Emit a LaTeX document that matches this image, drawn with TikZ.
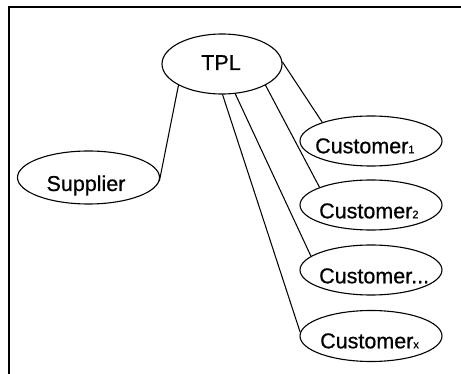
\documentclass[tikz,border=0pt]{standalone}
\usepackage{fontspec}
\setmainfont{Liberation Sans}
\usetikzlibrary{shapes.geometric}
\tikzset{
  oval/.style={draw, ellipse, line width=1.1pt, inner sep=0pt},
  txt/.style={inner sep=0pt, font=\fontsize{21.5}{24}\selectfont\addfontfeature{FakeBold=0.6}},
  link/.style={line width=1.05pt},
  frame/.style={line width=1.1pt}
}
\newcommand{\subsc}[1]{{\fontsize{11}{11}\selectfont #1}}
\begin{document}
\begin{tikzpicture}[x=1pt,y=-1pt]
\useasboundingbox (0,0) rectangle (461,374);
\coordinate (fa) at (9,374);
\coordinate (fb) at (9,7);
\coordinate (fc) at (461,7);
\draw[frame] (fa) -- (fb) -- (fc);

\node[oval, minimum width=120pt, minimum height=60pt] (tpl) at (222,64) {};
\node[oval, minimum width=142pt, minimum height=53pt] (sup) at (88.5,177.5) {};
\node[oval, minimum width=142pt, minimum height=50pt] (c1) at (371,141) {};
\node[oval, minimum width=142pt, minimum height=50pt] (c2) at (371,205) {};
\node[oval, minimum width=142pt, minimum height=50pt] (c3) at (371,270) {};
\node[oval, minimum width=142pt, minimum height=51pt] (cx) at (371,336) {};

\node[txt, anchor=base] (tplt) at (221,70) {TPL};
\node[txt, anchor=base] (supt) at (86,191) {Supplier};
\node[txt, anchor=base west] (c1t) at (315,153.3) {Customer\subsc{1}};
\node[txt, anchor=base west] (c2t) at (319,218.3) {Customer\subsc{2}};
\node[txt, anchor=base west] (c3t) at (319,283.3) {Customer...};
\node[txt, anchor=base west] (cxt) at (320,348.3) {Customer\subsc{x}};

\draw[link] (tpl.206) -- (sup.-3);
\draw[link] (tpl.2) -- (c1.159.6);
\draw[link] (tpl.-26.6) -- (c2.161.6);
\draw[link] (tpl.-66.6) -- (c3.167.8);
\draw[link] (tpl.-89) -- (cx.177.6);
\end{tikzpicture}
\end{document}
